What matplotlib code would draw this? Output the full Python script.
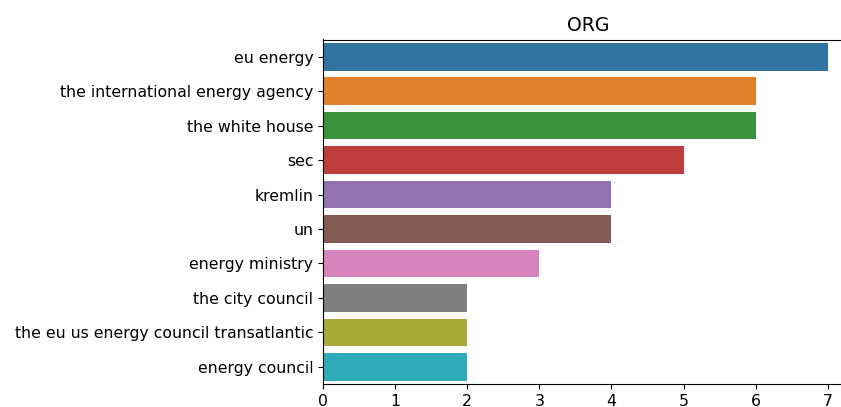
import matplotlib
matplotlib.use("Agg")
import matplotlib.pyplot as plt
import numpy as np

labels = [
    "eu energy",
    "the international energy agency",
    "the white house",
    "sec",
    "kremlin",
    "un",
    "energy ministry",
    "the city council",
    "the eu us energy council transatlantic",
    "energy council",
]
counts = [7, 6, 6, 5, 4, 4, 3, 2, 2, 2]
colors = ["#3274a1", "#e1812c", "#3a923a", "#c03d3e", "#9372b2",
          "#845b53", "#d684bd", "#7f7f7f", "#a9aa35", "#2eabb8"]

plt.rcParams["font.size"] = 11.3

figure = plt.figure(figsize=(8.41, 4.07), dpi=100)
W, H = 841, 407
left, right, top, bottom = 323, 853, 39.5, 384
axis = figure.add_axes([left / W, 1 - bottom / H, (right - left) / W, (bottom - top) / H])
y = np.arange(len(labels))
axis.barh(y, counts, height=0.8, color=colors)
axis.set_yticks(y, labels)
axis.set_ylim(len(labels) - 0.5, -0.5)
axis.set_xlim(0, 7.35)
axis.set_xticks(range(8))
axis.set_title("ORG")
figure.savefig("out.png", dpi=100)
